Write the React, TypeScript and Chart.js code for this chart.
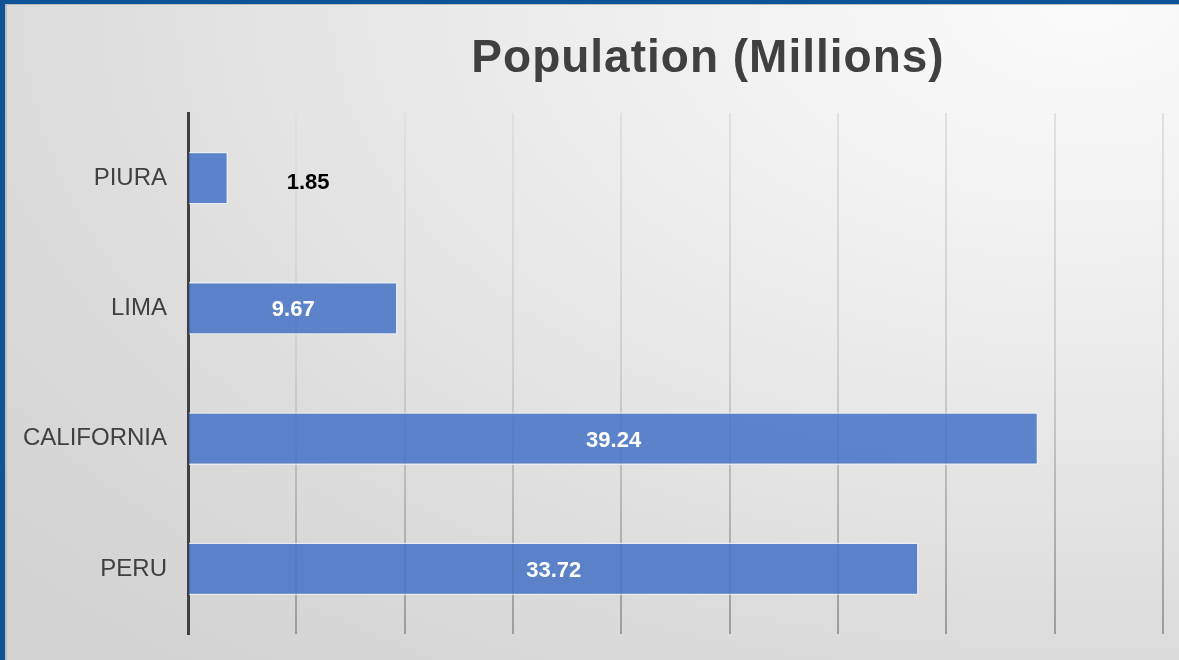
import React, { useEffect, useRef } from "react";
import { Chart, registerables } from "chart.js";

Chart.register(...registerables);

// ---- data ----
const categories = ["PIURA", "LIMA", "CALIFORNIA", "PERU"];
const population = [1.85, 9.67, 39.24, 33.72];
const valueLabels = ["1.85", "9.67", "39.24", "33.72"];
const chartTitle = "Population (Millions)";
const axisMin = 0;
const axisMax = 45;
const axisStep = 5;

const FONT = "'Liberation Sans', Arial, Helvetica, sans-serif";

const titlePlugin = {
  id: "customTitle",
  afterDraw(chart: any) {
    const ctx = chart.ctx;
    ctx.save();
    ctx.font = `bold 46px ${FONT}`;
    try {
      (ctx as any).letterSpacing = "1px";
    } catch (e) {}
    ctx.fillStyle = "#404040";
    ctx.textAlign = "center";
    ctx.textBaseline = "alphabetic";
    ctx.fillText(chartTitle, 708, 72);
    ctx.restore();
  },
};

const dataLabelPlugin = {
  id: "dataLabels",
  afterDatasetsDraw(chart: any) {
    const ctx = chart.ctx;
    const meta = chart.getDatasetMeta(0);
    ctx.save();
    ctx.font = `bold 22px ${FONT}`;
    ctx.textAlign = "center";
    ctx.textBaseline = "alphabetic";
    meta.data.forEach((bar: any, i: number) => {
      const text = valueLabels[i];
      const w = ctx.measureText(text).width;
      const left = bar.base;
      const right = bar.x;
      if (right - left > w + 12) {
        ctx.fillStyle = "#ffffff";
        ctx.fillText(text, (left + right) / 2, bar.y + 8);
      } else {
        ctx.fillStyle = "#000000";
        ctx.fillText(text, right + 80, bar.y + 11);
      }
    });
    ctx.restore();
  },
};

export default function App() {
  const canvasRef = useRef<HTMLCanvasElement | null>(null);

  useEffect(() => {
    document.body.style.margin = "0";
    const canvas = canvasRef.current;
    if (!canvas) return;
    const chart = new Chart(canvas, {
      type: "bar",
      data: {
        labels: categories,
        datasets: [
          {
            data: population,
            backgroundColor: "rgba(68,114,196,0.85)",
            borderColor: "rgba(235,240,250,0.75)",
            borderWidth: 1.5,
            barPercentage: 0.405,
            categoryPercentage: 1,
          },
        ],
      },
      options: {
        indexAxis: "y",
        responsive: false,
        animation: false,
        devicePixelRatio: 1,
        layout: { padding: { top: 113, right: 16, bottom: 26, left: 0 } },
        plugins: {
          legend: { display: false },
          title: { display: false },
          tooltip: { enabled: false },
        },
        scales: {
          x: {
            type: "linear",
            min: axisMin,
            max: axisMax,
            ticks: { display: false, stepSize: axisStep },
            border: { display: false },
            grid: {
              drawTicks: false,
              lineWidth: 2,
              color: (c: any) => {
                if (c.index === 0) return "rgba(0,0,0,0)";
                const area = c.chart.chartArea;
                if (!area) return "#c8c8c8";
                const g = c.chart.ctx.createLinearGradient(0, area.top, 0, area.bottom);
                g.addColorStop(0, "#e0e0e0");
                g.addColorStop(0.5, "#cecece");
                g.addColorStop(1, "#9c9c9c");
                return g;
              },
            },
            afterFit: (scale: any) => {
              scale.height = 0;
              scale.paddingLeft = 0;
              scale.paddingRight = 0;
            },
          },
          y: {
            ticks: {
              color: "#404040",
              font: { family: FONT, size: 24 },
              padding: 21,
            },
            grid: { display: false, drawTicks: false },
            border: { display: true, color: "#404040", width: 3 },
            afterFit: (scale: any) => {
              scale.width = 188;
              scale.paddingTop = 0;
              scale.paddingBottom = 0;
            },
          },
        },
      },
      plugins: [dataLabelPlugin, titlePlugin],
    });
    return () => chart.destroy();
  }, []);

  return (
    <div
      style={{
        position: "fixed",
        left: 0,
        top: 0,
        width: 1179,
        height: 660,
        background: "#0e5297",
        overflow: "hidden",
      }}
    >
      <div
        style={{
          position: "absolute",
          left: 5,
          top: 4,
          right: 0,
          bottom: 0,
          borderLeft: "2px solid #bcbcbc",
          borderTop: "1px solid #bcbcbc",
          background:
            "radial-gradient(ellipse 120% 130% at 92% 0%, #fbfbfb 0%, #ececec 40%, #dcdcdc 75%, #d3d3d3 100%)",
        }}
      />
      <canvas
        ref={canvasRef}
        width={1179}
        height={660}
        style={{ position: "absolute", left: 0, top: 0, width: 1179, height: 660 }}
      />
    </div>
  );
}
